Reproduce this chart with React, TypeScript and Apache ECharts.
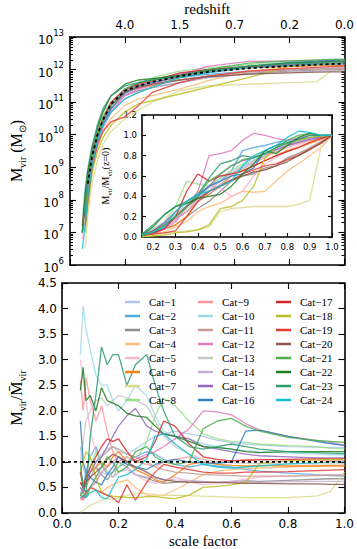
import React, { useEffect, useRef } from "react";
import * as echarts from "echarts";

const categories = [
  "Cat−1", "Cat−2", "Cat−3", "Cat−4", "Cat−5", "Cat−6", "Cat−7", "Cat−8",
  "Cat−9", "Cat−10", "Cat−11", "Cat−12", "Cat−13", "Cat−14", "Cat−15", "Cat−16",
  "Cat−17", "Cat−18", "Cat−19", "Cat−20", "Cat−21", "Cat−22", "Cat−23", "Cat−24",
];

const colors = [
  "#aec7e8", "#55a9e6", "#8c8c8c", "#ffbb78", "#f7b6d2", "#ff7f0e", "#dbdb8d", "#98df8a",
  "#ff9896", "#9edae5", "#c49c94", "#e377c2", "#c7c7c7", "#c5b0d5", "#9467bd", "#2f7fc1",
  "#d62728", "#bcbd22", "#e03c31", "#8c564b", "#4daf4a", "#1f7f1f", "#2e9b6e", "#17becf",
];

// ---- top panel: log10 Mvir vs scale factor ----
const topScale = [0.045, 0.055, 0.065, 0.08, 0.1, 0.12, 0.15, 0.2, 0.25, 0.3, 0.4, 0.5, 0.65, 0.8, 0.9, 0.95, 1.0];
const topLogMass: (number | null)[][] = [
  [7.2, 7.9, 8.6, 9.4, 10.0, 10.5, 10.9, 11.3, 11.5, 11.65, 11.85, 12.0, 12.12, 12.2, 12.25, 12.27, 12.29],
  [null, 7.6, 8.4, 9.2, 9.9, 10.4, 10.8, 11.25, 11.45, 11.6, 11.75, 11.85, 11.95, 12.0, 12.02, 12.03, 12.04],
  [7.0, 7.7, 8.3, 9.1, 9.8, 10.3, 10.8, 11.2, 11.35, 11.45, 11.6, 11.75, 11.88, 11.95, 11.98, 11.99, 12.0],
  [null, 7.3, 8.0, 8.9, 9.6, 10.1, 10.5, 10.9, 11.1, 11.2, 11.4, 11.65, 11.95, 12.08, 12.12, 12.14, 12.15],
  [6.8, 7.9, 8.8, 9.5, 10.1, 10.5, 10.8, 11.2, 11.4, 11.5, 11.7, 11.8, 11.95, 12.0, 12.03, 12.05, 12.06],
  [null, 7.5, 8.3, 9.2, 9.9, 10.4, 10.9, 11.35, 11.45, 11.5, 11.75, 11.92, 12.05, 12.1, 12.12, 12.13, 12.14],
  [null, 6.5, 7.5, 8.5, 9.2, 9.7, 10.1, 10.5, 10.75, 11.0, 11.35, 11.5, 11.55, 11.6, 11.63, 11.95, 12.0],
  [null, 7.4, 8.2, 9.1, 9.9, 10.5, 10.9, 11.3, 11.55, 11.75, 11.95, 12.05, 12.15, 12.22, 12.25, 12.27, 12.28],
  [7.3, 8.1, 8.9, 9.5, 10.1, 10.6, 10.9, 11.3, 11.5, 11.6, 11.8, 11.95, 12.07, 12.14, 12.17, 12.18, 12.19],
  [7.5, 8.4, 9.0, 9.7, 10.3, 10.7, 11.0, 11.4, 11.6, 11.7, 11.85, 11.97, 12.1, 12.18, 12.21, 12.23, 12.24],
  [null, 7.5, 8.2, 9.0, 9.8, 10.3, 10.8, 11.3, 11.45, 11.52, 11.68, 11.8, 11.92, 11.99, 12.02, 12.04, 12.05],
  [null, 7.2, 8.0, 8.9, 9.7, 10.2, 10.7, 11.2, 11.4, 11.55, 11.82, 12.1, 12.25, 12.27, 12.28, 12.29, 12.3],
  [7.2, 8.0, 8.8, 9.6, 10.2, 10.6, 11.0, 11.4, 11.55, 11.65, 11.82, 11.95, 12.07, 12.12, 12.14, 12.15, 12.16],
  [null, 7.4, 8.1, 9.0, 9.7, 10.2, 10.7, 11.1, 11.3, 11.45, 11.6, 11.75, 11.85, 11.92, 11.95, 11.96, 11.97],
  [null, 7.5, 8.3, 9.1, 9.8, 10.4, 10.9, 11.35, 11.6, 11.7, 11.85, 12.0, 12.1, 12.16, 12.19, 12.2, 12.21],
  [7.0, 7.9, 8.8, 9.4, 9.9, 10.3, 10.8, 11.3, 11.5, 11.6, 11.78, 11.9, 12.1, 12.22, 12.26, 12.28, 12.3],
  [7.1, 7.8, 8.6, 9.4, 10.0, 10.5, 11.0, 11.4, 11.55, 11.65, 11.9, 12.0, 12.08, 12.13, 12.16, 12.18, 12.2],
  [null, 7.0, 7.8, 8.8, 9.5, 9.9, 10.3, 10.7, 10.95, 11.05, 11.25, 11.45, 11.75, 12.1, 12.15, 12.18, 12.2],
  [null, 7.2, 8.0, 9.0, 9.7, 10.1, 10.4, 10.55, 10.9, 11.3, 11.6, 11.8, 11.95, 12.03, 12.07, 12.09, 12.11],
  [7.2, 8.0, 8.7, 9.4, 10.0, 10.5, 10.9, 11.3, 11.45, 11.55, 11.68, 11.78, 11.86, 11.9, 11.92, 11.93, 11.93],
  [null, 7.6, 8.5, 9.3, 10.0, 10.5, 10.9, 11.4, 11.6, 11.7, 11.8, 12.0, 12.2, 12.27, 12.3, 12.31, 12.32],
  [7.0, 8.2, 8.9, 9.6, 10.2, 10.7, 11.2, 11.55, 11.68, 11.72, 11.82, 11.97, 12.1, 12.2, 12.23, 12.25, 12.26],
  [7.0, 7.9, 8.7, 9.5, 10.3, 10.8, 11.2, 11.5, 11.6, 11.68, 11.8, 11.95, 12.1, 12.18, 12.21, 12.23, 12.24],
  [6.5, 7.2, 8.1, 9.0, 9.8, 10.3, 10.7, 11.1, 11.3, 11.45, 11.75, 11.9, 12.05, 12.13, 12.16, 12.17, 12.18],
];
const topMeanLogMass: (number | null)[] = [null, null, 8.5, 9.3, 10.0, 10.45, 10.95, 11.35, 11.5, 11.62, 11.8, 11.93, 12.04, 12.11, 12.15, 12.17, 12.18];
const logMassTicks = [6, 7, 8, 9, 10, 11, 12, 13];
const redshiftLabels = ["", "4.0", "1.5", "0.7", "0.2", "0.0"];

// ---- inset: Mvir / Mvir(z=0) ----
const insetScale = [0.15, 0.2, 0.25, 0.3, 0.35, 0.4, 0.45, 0.5, 0.55, 0.6, 0.65, 0.7, 0.75, 0.8, 0.85, 0.9, 0.95, 1.0];
const insetTickValues = [0.2, 0.3, 0.4, 0.5, 0.6, 0.7, 0.8, 0.9, 1.0];
const insetFraction: number[][] = [
  [0.02, 0.06, 0.12, 0.2, 0.3, 0.4, 0.5, 0.58, 0.63, 0.7, 0.76, 0.8, 0.86, 0.9, 0.93, 0.96, 0.98, 1.0],
  [0.02, 0.05, 0.12, 0.2, 0.3, 0.42, 0.5, 0.55, 0.65, 0.85, 0.88, 0.9, 0.93, 0.95, 0.97, 1.0, 1.0, 1.0],
  [0.01, 0.03, 0.08, 0.12, 0.2, 0.28, 0.35, 0.45, 0.55, 0.6, 0.62, 0.68, 0.7, 0.78, 0.82, 0.87, 0.92, 1.0],
  [0.01, 0.02, 0.05, 0.1, 0.15, 0.25, 0.3, 0.33, 0.4, 0.45, 0.44, 0.45, 0.55, 0.65, 0.72, 0.8, 0.88, 1.0],
  [0.03, 0.06, 0.1, 0.18, 0.3, 0.38, 0.5, 0.48, 0.4, 0.45, 0.6, 0.72, 0.78, 0.85, 0.9, 0.95, 0.98, 1.0],
  [0.01, 0.03, 0.08, 0.12, 0.2, 0.35, 0.42, 0.5, 0.6, 0.65, 0.7, 0.75, 0.8, 0.85, 0.88, 0.92, 0.96, 1.0],
  [0.0, 0.02, 0.04, 0.05, 0.06, 0.07, 0.1, 0.25, 0.28, 0.29, 0.3, 0.3, 0.3, 0.3, 0.32, 0.36, 0.88, 1.0],
  [0.03, 0.08, 0.15, 0.3, 0.55, 0.52, 0.5, 0.58, 0.65, 0.72, 0.78, 0.85, 0.9, 0.93, 0.95, 0.97, 0.99, 1.0],
  [0.02, 0.06, 0.12, 0.18, 0.25, 0.35, 0.45, 0.55, 0.62, 0.68, 0.73, 0.78, 0.84, 0.88, 0.92, 0.95, 0.98, 1.0],
  [0.03, 0.08, 0.15, 0.22, 0.32, 0.4, 0.5, 0.55, 0.6, 0.68, 0.75, 0.8, 0.85, 0.9, 0.94, 0.97, 0.99, 1.0],
  [0.02, 0.05, 0.1, 0.17, 0.25, 0.35, 0.42, 0.5, 0.55, 0.6, 0.63, 0.66, 0.7, 0.76, 0.82, 0.88, 0.94, 1.0],
  [0.01, 0.03, 0.08, 0.15, 0.3, 0.45, 0.8, 0.82, 0.85, 0.95, 1.02, 1.0, 0.97, 0.95, 0.97, 1.0, 1.0, 1.0],
  [0.02, 0.06, 0.14, 0.22, 0.32, 0.4, 0.48, 0.55, 0.62, 0.7, 0.75, 0.8, 0.85, 0.9, 0.93, 0.96, 0.98, 1.0],
  [0.02, 0.05, 0.1, 0.18, 0.28, 0.36, 0.45, 0.52, 0.6, 0.67, 0.73, 0.8, 0.86, 0.9, 0.94, 0.97, 0.99, 1.0],
  [0.02, 0.06, 0.14, 0.25, 0.35, 0.42, 0.5, 0.62, 0.7, 0.75, 0.78, 0.82, 0.86, 0.9, 0.93, 0.96, 0.98, 1.0],
  [0.01, 0.04, 0.1, 0.2, 0.3, 0.4, 0.5, 0.55, 0.6, 0.62, 0.68, 0.85, 0.9, 0.93, 0.96, 0.98, 0.99, 1.0],
  [0.01, 0.04, 0.08, 0.2, 0.45, 0.62, 0.55, 0.6, 0.62, 0.65, 0.7, 0.75, 0.8, 0.84, 0.88, 0.93, 0.97, 1.0],
  [0.0, 0.01, 0.02, 0.04, 0.05, 0.07, 0.12, 0.28, 0.3, 0.36, 0.5, 0.78, 0.88, 0.92, 0.95, 0.98, 0.99, 1.0],
  [0.02, 0.03, 0.04, 0.06, 0.2, 0.35, 0.45, 0.5, 0.56, 0.62, 0.66, 0.7, 0.72, 0.76, 0.8, 0.86, 0.92, 1.0],
  [0.02, 0.06, 0.12, 0.2, 0.3, 0.38, 0.45, 0.5, 0.56, 0.6, 0.64, 0.66, 0.7, 0.74, 0.8, 0.86, 0.93, 1.0],
  [0.01, 0.05, 0.12, 0.2, 0.3, 0.42, 0.55, 0.62, 0.7, 0.76, 0.78, 0.82, 0.88, 0.95, 1.0, 1.02, 1.0, 1.0],
  [0.02, 0.1, 0.22, 0.3, 0.33, 0.38, 0.4, 0.42, 0.5, 0.62, 0.72, 0.85, 0.82, 0.9, 0.98, 1.02, 1.0, 1.0],
  [0.03, 0.12, 0.22, 0.3, 0.35, 0.42, 0.58, 0.72, 0.75, 0.8, 0.78, 0.82, 0.88, 0.92, 0.96, 1.0, 1.0, 1.0],
  [0.02, 0.05, 0.1, 0.25, 0.35, 0.42, 0.45, 0.5, 0.55, 0.7, 0.8, 0.85, 0.9, 0.98, 1.04, 1.03, 1.0, 1.0],
];

// ---- bottom panel: Mvir / mean Mvir ----
const bottomScale = [0.065, 0.075, 0.085, 0.1, 0.12, 0.14, 0.16, 0.18, 0.2, 0.23, 0.26, 0.3, 0.33, 0.36, 0.4, 0.45, 0.5, 0.55, 0.6, 0.65, 0.7, 0.8, 0.9, 0.95, 1.0];
const bottomRatio: number[][] = [
  [1.3, 0.9, 0.7, 0.8, 1.0, 1.15, 1.25, 1.3, 1.2, 1.15, 1.25, 1.4, 1.5, 1.55, 1.6, 1.55, 1.5, 1.42, 1.38, 1.35, 1.33, 1.3, 1.29, 1.28, 1.28],
  [0.6, 0.5, 0.8, 1.1, 1.3, 0.95, 0.75, 0.8, 0.9, 1.0, 1.1, 1.2, 1.15, 1.05, 0.95, 0.9, 0.95, 0.92, 0.9, 0.85, 0.82, 0.78, 0.75, 0.73, 0.72],
  [0.35, 0.5, 0.6, 0.8, 0.9, 0.75, 0.65, 0.8, 1.0, 0.9, 0.75, 0.68, 0.62, 0.58, 0.6, 0.62, 0.6, 0.6, 0.62, 0.63, 0.62, 0.64, 0.66, 0.67, 0.67],
  [0.25, 0.3, 0.4, 0.5, 0.45, 0.4, 0.5, 0.55, 0.6, 0.65, 0.5, 0.35, 0.33, 0.35, 0.45, 0.6, 0.75, 0.82, 0.85, 0.87, 0.88, 0.9, 0.92, 0.93, 0.93],
  [3.0, 2.6, 2.2, 1.6, 1.2, 1.0, 0.8, 0.7, 0.8, 0.9, 0.75, 0.62, 0.58, 0.62, 0.7, 0.62, 0.55, 0.58, 0.62, 0.66, 0.7, 0.72, 0.74, 0.75, 0.75],
  [0.6, 0.5, 0.7, 0.8, 0.9, 1.0, 0.9, 1.1, 1.2, 1.0, 0.85, 0.75, 0.65, 0.6, 0.75, 0.95, 1.0, 0.95, 0.93, 0.92, 0.93, 0.92, 0.92, 0.92, 0.92],
  [0.02, 0.05, 0.1, 0.15, 0.2, 0.25, 0.28, 0.26, 0.3, 0.34, 0.38, 0.38, 0.36, 0.34, 0.35, 0.34, 0.33, 0.32, 0.31, 0.3, 0.3, 0.3, 0.33, 0.42, 0.8],
  [0.5, 0.4, 0.6, 0.9, 1.2, 1.0, 0.8, 0.7, 0.9, 1.1, 1.0, 1.4, 1.9, 2.25, 2.1, 1.8, 1.55, 1.45, 1.4, 1.38, 1.35, 1.32, 1.3, 1.27, 1.25],
  [2.6, 2.0, 2.65, 2.2, 1.8, 2.1, 1.6, 1.2, 1.0, 1.1, 1.0, 0.95, 0.9, 1.0, 1.05, 1.1, 1.05, 1.0, 1.02, 1.05, 1.05, 1.04, 1.03, 1.03, 1.02],
  [3.1, 4.05, 3.6, 3.2, 2.7, 2.5, 2.5, 2.2, 2.0, 2.2, 2.5, 2.3, 1.9, 1.6, 1.5, 1.45, 1.35, 1.3, 1.25, 1.22, 1.2, 1.17, 1.15, 1.14, 1.14],
  [0.8, 0.6, 0.5, 0.7, 0.9, 1.1, 1.2, 1.3, 1.25, 1.15, 1.1, 1.0, 0.9, 0.85, 0.8, 0.78, 0.75, 0.74, 0.73, 0.72, 0.72, 0.72, 0.73, 0.74, 0.74],
  [0.3, 0.25, 0.35, 0.5, 0.6, 0.8, 0.9, 1.0, 1.1, 1.0, 1.05, 1.15, 1.2, 1.3, 1.45, 1.65, 2.0, 1.98, 1.92, 1.75, 1.62, 1.5, 1.42, 1.38, 1.33],
  [1.0, 1.4, 1.8, 2.0, 2.2, 2.25, 2.1, 2.2, 2.3, 2.25, 2.2, 2.1, 1.8, 1.5, 1.3, 1.15, 1.05, 1.0, 0.98, 0.97, 0.97, 0.96, 0.96, 0.96, 0.96],
  [0.4, 0.45, 0.35, 0.5, 0.7, 0.8, 0.75, 0.7, 0.8, 0.85, 0.75, 0.7, 0.68, 0.66, 0.65, 0.64, 0.62, 0.6, 0.6, 0.6, 0.6, 0.61, 0.62, 0.62, 0.62],
  [0.5, 0.4, 0.6, 0.8, 1.0, 1.1, 1.3, 1.5, 1.7, 1.9, 2.05, 1.7, 1.6, 1.55, 1.5, 1.45, 1.3, 1.25, 1.2, 1.15, 1.12, 1.1, 1.08, 1.08, 1.08],
  [1.8, 1.0, 0.8, 0.7, 0.6, 0.55, 0.75, 0.9, 1.1, 0.95, 0.9, 0.85, 0.95, 1.0, 1.05, 1.0, 0.98, 0.97, 1.0, 1.6, 1.62, 1.5, 1.4, 1.36, 1.32],
  [0.6, 0.5, 0.7, 0.9, 1.1, 1.3, 1.45, 1.4, 1.45, 1.2, 1.0, 1.1, 1.4, 1.8, 1.7, 1.35, 1.1, 1.05, 1.02, 1.03, 1.04, 1.05, 1.06, 1.06, 1.06],
  [0.8, 1.0, 1.2, 1.1, 0.7, 0.4, 0.35, 0.33, 0.32, 0.3, 0.3, 0.32, 0.32, 0.3, 0.28, 0.35, 0.5, 0.52, 0.55, 0.6, 0.97, 1.02, 1.04, 1.05, 1.05],
  [0.35, 0.3, 0.4, 0.5, 0.45, 0.4, 0.35, 0.3, 0.2, 0.55, 0.25, 0.6, 0.8, 0.95, 0.9, 0.85, 0.8, 0.78, 0.78, 0.8, 0.8, 0.81, 0.83, 0.84, 0.85],
  [0.8, 0.5, 0.6, 0.7, 0.8, 0.9, 1.05, 1.15, 1.1, 1.0, 0.9, 0.8, 0.7, 0.65, 0.62, 0.6, 0.6, 0.6, 0.59, 0.58, 0.58, 0.57, 0.57, 0.56, 0.56],
  [0.35, 0.4, 0.3, 0.5, 0.7, 0.9, 1.1, 1.0, 0.8, 0.9, 1.2, 1.3, 1.1, 1.0, 0.95, 1.0, 1.65, 1.8, 1.85, 1.7, 1.6, 1.48, 1.42, 1.4, 1.38],
  [2.4, 2.85, 2.2, 2.3, 2.0, 2.45, 2.2, 2.15, 2.1, 1.95, 1.9, 1.87, 1.7, 1.55, 1.5, 1.4, 1.3, 1.28, 1.25, 1.2, 1.18, 1.2, 1.2, 1.2, 1.2],
  [1.0, 0.5, 0.4, 1.5, 2.3, 3.25, 2.9, 3.1, 3.1, 2.5, 2.9, 3.1, 2.5, 2.0, 1.5, 1.3, 1.25, 1.3, 1.35, 1.3, 1.25, 1.2, 1.18, 1.17, 1.16],
  [0.3, 0.35, 0.3, 0.4, 0.45, 0.3, 0.28, 0.5, 0.7, 0.75, 0.85, 1.05, 1.5, 1.55, 1.35, 1.15, 0.95, 0.9, 0.88, 0.9, 0.92, 0.96, 0.98, 1.0, 1.0],
];
const referenceRatio = 1.0;

const NUM = "DejaVu Sans";
const SERIF = "Liberation Serif";
const BLACK = "#000";

function buildOption() {
  const lineAx = { show: true, onZero: false, lineStyle: { color: BLACK, width: 1.6 } };
  const tick = (len: number, extra: any = {}) => ({
    show: true, inside: true, length: len, lineStyle: { color: BLACK, width: 1.1 }, ...extra,
  });
  const noSplit = { show: false };
  const minorLogTicks: number[] = [];
  for (let n = 6; n < 13; n++) for (let k = 2; k <= 9; k++) minorLogTicks.push(n + Math.log10(k));

  const xAxis: any[] = [
    { gridIndex: 0, type: "value", position: "bottom", min: 0, max: 1, interval: 0.2,
      axisLine: lineAx, axisTick: tick(6), axisLabel: { show: false }, splitLine: noSplit },
    { gridIndex: 0, type: "value", position: "top", min: 0, max: 1, interval: 0.2,
      axisLine: lineAx, axisTick: tick(6), splitLine: noSplit,
      axisLabel: { show: true, margin: 6, fontSize: 12, fontFamily: NUM, color: BLACK,
        formatter: (v: number) => redshiftLabels[Math.round(v * 5)] ?? "" },
      name: "redshift", nameLocation: "middle", nameGap: 21,
      nameTextStyle: { fontFamily: SERIF, fontSize: 15, color: BLACK } },
    { gridIndex: 1, type: "value", position: "bottom", min: 0.15, max: 1,
      axisLine: lineAx, axisTick: tick(4, { customValues: insetTickValues }), splitLine: noSplit,
      axisLabel: { show: true, customValues: insetTickValues, margin: 5, fontSize: 8.5, fontFamily: NUM, color: BLACK,
        formatter: (v: number) => v.toFixed(1) } },
    { gridIndex: 1, type: "value", position: "top", min: 0.15, max: 1,
      axisLine: lineAx, axisTick: tick(4, { customValues: insetTickValues }), splitLine: noSplit,
      axisLabel: { show: false } },
    { gridIndex: 2, type: "value", position: "bottom", min: 0, max: 1, interval: 0.2,
      axisLine: lineAx, axisTick: tick(6), splitLine: noSplit,
      axisLabel: { show: true, margin: 5, fontSize: 12, fontFamily: NUM, color: BLACK,
        formatter: (v: number) => v.toFixed(1) },
      name: "scale factor", nameLocation: "middle", nameGap: 20,
      nameTextStyle: { fontFamily: SERIF, fontSize: 15, color: BLACK } },
    { gridIndex: 2, type: "value", position: "top", min: 0, max: 1, interval: 0.2,
      axisLine: lineAx, axisTick: tick(6), splitLine: noSplit, axisLabel: { show: false } },
  ];

  const subRich = {
    m: { fontFamily: SERIF, fontSize: 16, color: BLACK, lineHeight: 22, verticalAlign: "middle" },
    s: { fontFamily: SERIF, fontSize: 10, color: BLACK, lineHeight: 10, verticalAlign: "bottom" },
  };
  const subRichSmall = {
    m: { fontFamily: SERIF, fontSize: 10, color: BLACK, lineHeight: 14, verticalAlign: "middle" },
    s: { fontFamily: SERIF, fontSize: 6.5, color: BLACK, lineHeight: 6, verticalAlign: "bottom" },
  };

  const yAxis: any[] = [
    { gridIndex: 0, type: "value", position: "left", min: 6, max: 13, interval: 1,
      axisLine: lineAx, axisTick: tick(6), splitLine: noSplit,
      axisLabel: { show: true, margin: 6, formatter: (v: number) => `{b|10}{s|${Math.round(v)}}`,
        rich: {
          b: { fontFamily: NUM, fontSize: 12, color: BLACK, lineHeight: 18, verticalAlign: "bottom" },
          s: { fontFamily: NUM, fontSize: 8.5, color: BLACK, lineHeight: 7, verticalAlign: "top" },
        } },
      name: "{m|M}{s|vir}{m| (M}{s|⊙}{m|)}", nameLocation: "middle", nameGap: 30,
      nameTextStyle: { rich: subRich } },
    { gridIndex: 0, type: "value", position: "right", min: 6, max: 13, interval: 1,
      axisLine: lineAx, axisTick: tick(6), splitLine: noSplit, axisLabel: { show: false } },
    { gridIndex: 0, type: "value", position: "left", min: 6, max: 13,
      axisLine: { show: false, onZero: false }, axisTick: tick(3, { customValues: minorLogTicks }),
      splitLine: noSplit, axisLabel: { show: false } },
    { gridIndex: 0, type: "value", position: "right", min: 6, max: 13,
      axisLine: { show: false, onZero: false }, axisTick: tick(3, { customValues: minorLogTicks }),
      splitLine: noSplit, axisLabel: { show: false } },
    { gridIndex: 1, type: "value", position: "left", min: 0, max: 1.2, interval: 0.2,
      axisLine: lineAx, axisTick: tick(4), splitLine: noSplit,
      axisLabel: { show: true, margin: 5, fontSize: 8.5, fontFamily: NUM, color: BLACK,
        formatter: (v: number) => v.toFixed(1) },
      name: "{m|M}{s|vir}{m|/M}{s|vir}{m|(z=0)}", nameLocation: "middle", nameGap: 20,
      nameTextStyle: { rich: subRichSmall } },
    { gridIndex: 1, type: "value", position: "right", min: 0, max: 1.2, interval: 0.2,
      axisLine: lineAx, axisTick: tick(4), splitLine: noSplit, axisLabel: { show: false } },
    { gridIndex: 2, type: "value", position: "left", min: 0, max: 4.5, interval: 0.5,
      axisLine: lineAx, axisTick: tick(6), splitLine: noSplit,
      axisLabel: { show: true, margin: 5, fontSize: 12, fontFamily: NUM, color: BLACK,
        formatter: (v: number) => v.toFixed(1) },
      name: "{m|M}{s|vir}{m|/M\u0304}{s|vir}", nameLocation: "middle", nameGap: 28,
      nameTextStyle: { rich: subRich } },
    { gridIndex: 2, type: "value", position: "right", min: 0, max: 4.5, interval: 0.5,
      axisLine: lineAx, axisTick: tick(6), splitLine: noSplit, axisLabel: { show: false } },
  ];

  const series: any[] = [];
  categories.forEach((name, i) => {
    const color = colors[i];
    const ls = { color, width: 1.3, opacity: 0.85 };
    const common = { type: "line", name, showSymbol: false, symbol: "none", silent: true,
      lineStyle: ls, itemStyle: { color }, z: 2 };
    series.push({ ...common, xAxisIndex: 0, yAxisIndex: 0,
      data: topScale.map((a, j) => [a, topLogMass[i][j]]).filter((d) => d[1] !== null) });
    series.push({ ...common, xAxisIndex: 2, yAxisIndex: 4, z: 3,
      data: insetScale.map((a, j) => [a, insetFraction[i][j]]) });
    series.push({ ...common, xAxisIndex: 4, yAxisIndex: 6,
      data: bottomScale.map((a, j) => [a, bottomRatio[i][j]]) });
  });
  series.push({ type: "line", name: "mean", xAxisIndex: 0, yAxisIndex: 0, showSymbol: false, symbol: "none",
    silent: true, z: 6, lineStyle: { color: BLACK, width: 1.8, type: [3, 3] },
    data: topScale.map((a, j) => [a, topMeanLogMass[j]]).filter((d) => d[1] !== null) });
  series.push({ type: "line", name: "unity", xAxisIndex: 4, yAxisIndex: 6, showSymbol: false, symbol: "none",
    silent: true, z: 6, lineStyle: { color: BLACK, width: 1.6, type: [3, 3] },
    data: [[0, referenceRatio], [1, referenceRatio]] });

  const legendLefts = [125, 198, 276];
  const legend = [0, 1, 2].map((k) => ({
    data: categories.slice(k * 8, k * 8 + 8),
    orient: "vertical", left: legendLefts[k], top: 295, padding: 0,
    itemWidth: 15, itemHeight: 2.5, itemGap: 0, icon: "rect", selectedMode: false,
    textStyle: { fontFamily: SERIF, fontSize: 11, color: BLACK, lineHeight: 14, padding: [0, 0, 0, 4] },
  }));

  return {
    animation: false,
    backgroundColor: "#fff",
    grid: [
      { left: 52, top: 31, width: 295, height: 234 },
      { left: 142, top: 115, width: 190, height: 122, show: true, backgroundColor: "#fff", borderWidth: 0 },
      { left: 52, top: 283, width: 295, height: 234 },
    ],
    xAxis, yAxis, legend, series,
  };
}

export default function App() {
  const ref = useRef<HTMLDivElement>(null);
  useEffect(() => {
    document.body.style.margin = "0";
    if (!ref.current) return;
    const chart = echarts.init(ref.current, undefined, { renderer: "svg" });
    chart.setOption(buildOption() as any);
    return () => chart.dispose();
  }, []);
  return <div ref={ref} style={{ width: 357, height: 549 }} />;
}
